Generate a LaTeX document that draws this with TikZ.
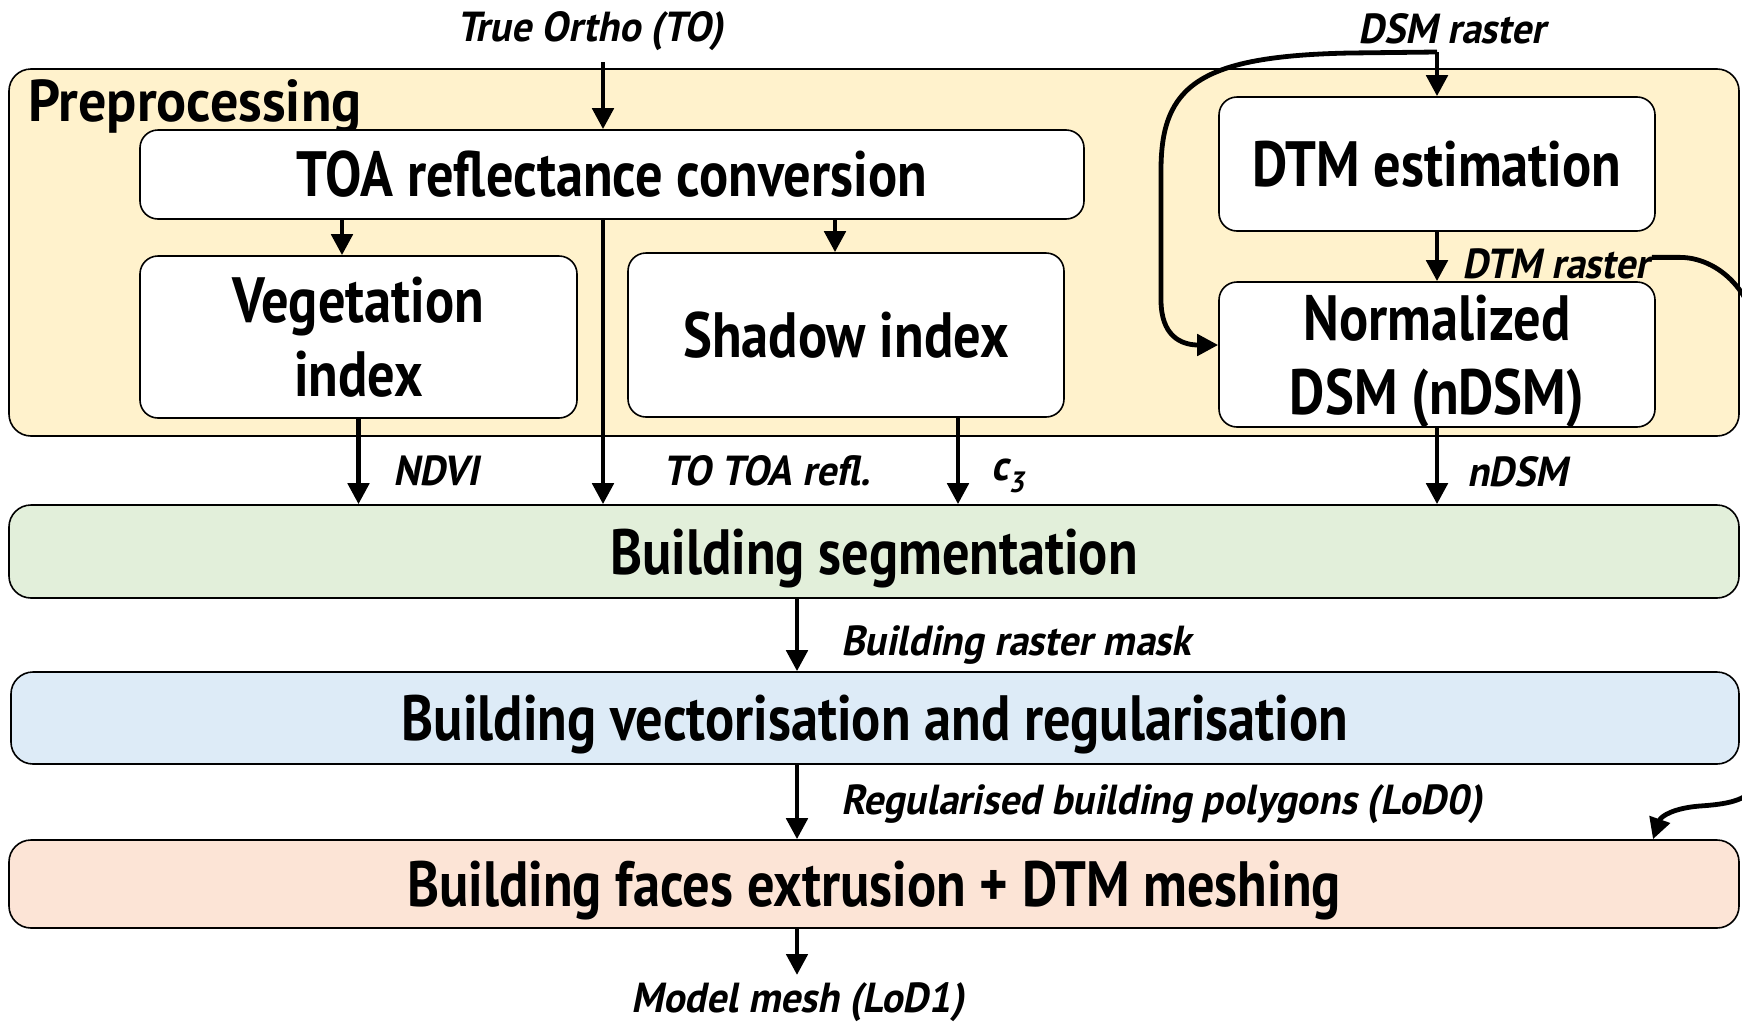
\documentclass[tikz,border=0pt]{standalone}
\usepackage{fontspec}
\setmainfont{PT Sans}[FakeStretch=0.85]
\newfontfamily\prepfont{PT Sans}[FakeStretch=0.95]
\newfontfamily\labfont{PT Sans}[FakeStretch=0.95,FakeSlant=0.2]
\usetikzlibrary{arrows.meta}
\definecolor{prepc}{HTML}{FFF2CC}
\definecolor{segc}{HTML}{E2EFDA}
\definecolor{vecc}{HTML}{DDEBF7}
\definecolor{facec}{HTML}{FCE4D6}
\tikzset{
  box/.style={draw=black, line width=1.6pt, rounded corners=18pt, fill=white, inner sep=0pt,
    font=\bfseries\fontsize{64}{74}\selectfont, align=center},
  bigbox/.style={box, rounded corners=22pt},
  arr/.style={line width=4.8pt, -{Triangle[length=21pt,width=21pt]}},
  lab/.style={font=\labfont\bfseries\fontsize{42}{50}\selectfont, inner sep=0pt, anchor=base west},
}
\begin{document}
\begin{tikzpicture}[x=1pt,y=-1pt]
\useasboundingbox (0,0) rectangle (1742,1023);
\fill[white] (0,0) rectangle (1742,1023);
\clip (0,0) rectangle (1742,1023);

% preprocessing container
\node[bigbox, fill=prepc, minimum width=1730pt, minimum height=367pt] (prep) at (874,252.5) {};
\node[font=\prepfont\bfseries\fontsize{59}{64}\selectfont, inner sep=0pt, anchor=base west] (preptxt) at (28,121) {Preprocessing};

% inner boxes
\node[box, minimum width=944pt, minimum height=89pt] (toa) at (612,174.5) {TOA reflectance conversion};
\node[box, minimum width=437pt, minimum height=162pt] (veg) at (358.5,337) {Vegetation\\index};
\node[box, minimum width=436pt, minimum height=164pt] (shadow) at (846,335) {Shadow index};
\node[box, minimum width=436pt, minimum height=134pt] (dtm) at (1437,164) {DTM estimation};
\node[box, minimum width=436pt, minimum height=145pt, text depth=0pt] (norm) at (1437,354.5) {Normalized\\DSM (nDSM)};

% main stages
\node[bigbox, fill=segc, minimum width=1730pt, minimum height=93pt, text height=45pt, text depth=0pt] (seg) at (874,551.5) {Building segmentation};
\node[bigbox, fill=vecc, minimum width=1728pt, minimum height=92pt, text height=45pt, text depth=0pt] (vec) at (875,718) {Building vectorisation and regularisation};
\node[bigbox, fill=facec, minimum width=1730pt, minimum height=88pt, text height=45pt, text depth=0pt] (faces) at (874,884) {Building faces extrusion + DTM meshing};

% labels
\node[lab] (tolab) at (457,41) {True Ortho (TO)};
\node[lab] (dsmlab) at (1358,43) {DSM raster};
\node[lab] (ndvilab) at (393,485) {NDVI};
\node[lab] (toalab) at (663,485) {TO TOA refl.};
\node[lab] (c3lab) at (991,480) {c\textsubscript{3}};
\node[lab] (dtmlab) at (1462,278) {DTM raster};
\node[lab] (ndsmlab) at (1467,486) {nDSM};
\node[lab] (masklab) at (841,655) {Building raster mask};
\node[lab] (polylab) at (841,814) {Regularised building polygons (LoD0)};
\node[lab] (meshlab) at (631,1012) {Model mesh (LoD1)};

% helper coordinates
\coordinate (toin) at (603,62);
\coordinate (xveg) at (342,0);
\coordinate (xsha) at (835,0);
\coordinate (xc3) at (958,0);
\coordinate (xc) at (797,0);
\coordinate (xr) at (1653,0);
\coordinate (dsmtop) at (1437,52);
\coordinate (meshtop) at (797,975);

% arrows
\draw[arr] (toin) -- (toin |- toa.north);
\draw[arr] (toa.south -| xveg) -- (veg.north -| xveg);
\draw[arr] (toa.south -| xsha) -- (shadow.north -| xsha);
\draw[arr] (toa.south -| toin) -- (seg.north -| toin);
\draw[arr] (veg.south) -- (veg.south |- seg.north);
\draw[arr] (shadow.south -| xc3) -- (seg.north -| xc3);
\draw[arr] (dsmtop) -- (dtm.north);
\draw[arr] (dtm.south) -- (norm.north);
\draw[arr] (norm.south) -- (norm.south |- seg.north);
\draw[arr] (dsmtop) -- (1350,53) .. controls (1200,56) and (1161,85) .. (1161,170) -- (1161,300) .. controls (1161,335) and (1180,345) .. ([yshift=9.5pt]norm.west);
\draw[arr] ([xshift=2pt,yshift=6pt]dtmlab.east) -- ++(28,0) .. controls +(36,0) and (1760,290) .. (1760,360) -- (1760,760) .. controls (1760,795) and (1745,803) .. (1700,806) .. controls (1674,808) and (1661,816) .. (faces.north -| xr);
\draw[arr] (seg.south -| xc) -- (vec.north -| xc);
\draw[arr] (vec.south -| xc) -- (faces.north -| xc);
\draw[arr] (faces.south -| xc) -- (meshtop);
\end{tikzpicture}
\end{document}
